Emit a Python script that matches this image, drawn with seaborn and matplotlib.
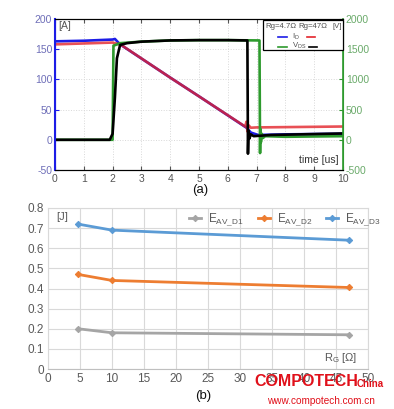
import numpy as np
import pandas as pd
import matplotlib
matplotlib.use("Agg")
import matplotlib.pyplot as plt
import seaborn as sns

# ---------------- Panel (a): switching waveforms ----------------
# I_D, Rg = 4.7 ohm (left axis, A)
t_id_a = [0, 1.0, 2.0, 2.08, 2.26, 4.0, 5.03, 6.65, 6.8, 7.05, 8.0, 9.0, 10.0]
id_a = [163, 164, 166, 167, 158, 103, 71, 20, 12, 8, 9, 9.5, 10]
# I_D, Rg = 47 ohm
t_id_b = [0, 1.0, 2.0, 2.3, 4.0, 5.03, 6.6, 6.65, 6.68, 6.72, 6.8, 7.0, 8.0, 9.0, 10.0]
id_b = [158, 159.5, 161, 157, 103, 71, 22, 30, 14, 24, 20, 20.5, 21, 21.5, 22]
# V_DS, Rg = 4.7 ohm (right axis, V)
t_vds_a = [0, 2.0, 2.03, 2.1, 2.26, 3.0, 4.0, 5.0, 6.0, 7.1, 7.12, 7.13, 7.15, 7.18, 7.22, 7.3, 8.0, 9.0, 10.0]
vds_a = [0, 0, 1560, 1570, 1600, 1625, 1645, 1650, 1650, 1645, -220, 180, -40, 100, 30, 60, 50, 55, 60]
# V_DS, Rg = 47 ohm
t_vds_b = [0, 1.9, 2.0, 2.08, 2.15, 2.26, 2.5, 3.0, 4.0, 5.0, 6.0, 6.68, 6.7, 6.72, 6.75, 6.8, 6.9, 7.5, 8.0, 9.0, 10.0]
vds_b = [0, 0, 100, 700, 1350, 1570, 1600, 1625, 1645, 1650, 1650, 1645, -230, 150, 20, 90, 60, 80, 85, 95, 105]

# ---------------- Panel (b): avalanche energy vs Rg ----------------
rg = [4.7, 10, 47]
eav_d1 = [0.20, 0.18, 0.17]
eav_d2 = [0.47, 0.44, 0.405]
eav_d3 = [0.72, 0.69, 0.64]

W, H = 394, 409
plt.rcParams['font.family'] = ['Liberation Sans', 'DejaVu Sans']
plt.rcParams['mathtext.fontset'] = 'custom'
plt.rcParams['mathtext.rm'] = 'Liberation Sans'
plt.rcParams['mathtext.it'] = 'Liberation Sans'
plt.rcParams['axes.unicode_minus'] = False

fig = plt.figure(figsize=(W / 100, H / 100), dpi=100)
fig.patch.set_facecolor('white')


def fx(x):
    return x / W


def fy(y):
    return 1 - y / H


# ---- top axes ----
ax1 = fig.add_axes([fx(55), fy(170), fx(343) - fx(55), fy(19) - fy(170)])
ax2 = ax1.twinx()

blue, red, green, black = '#1c1ce6', '#e3242b', '#2e9a2e', '#000000'
lw = 1.9
sns.lineplot(x=t_id_a, y=id_a, ax=ax1, color=blue, lw=lw, sort=False, estimator=None)
sns.lineplot(x=t_id_b, y=id_b, ax=ax1, color=red, lw=lw, sort=False, estimator=None, alpha=0.8)
sns.lineplot(x=t_vds_a, y=vds_a, ax=ax2, color=green, lw=lw, sort=False, estimator=None)
sns.lineplot(x=t_vds_b, y=vds_b, ax=ax2, color=black, lw=lw, sort=False, estimator=None)

ax1.set_xlim(0, 10)
ax1.set_ylim(-50, 200)
ax2.set_ylim(-500, 2000)
ax1.set_xticks(range(0, 11))
ax1.set_yticks(range(-50, 201, 50))
ax2.set_yticks(range(-500, 2001, 500))
ax1.grid(True, color='#d8d8d8', ls=':', lw=0.7)
ax1.set_axisbelow(True)
ax1.set_xlabel('')
ax1.set_ylabel('')
ax2.set_ylabel('')
ax1.tick_params(axis='x', labelsize=7.5, colors='#555555', direction='in', length=3, pad=3, top=True)
ax1.tick_params(axis='y', labelsize=7.5, labelcolor='#6e6eb8', color=blue, direction='in', length=3, pad=2)
ax2.tick_params(axis='y', labelsize=7.5, labelcolor='#6aaa6a', color=green, direction='in', length=3, pad=2)
ax2.spines['left'].set_color(blue)
ax2.spines['left'].set_linewidth(1.5)
ax2.spines['right'].set_color(green)
ax2.spines['right'].set_linewidth(1.2)
for s in ['top', 'bottom']:
    ax2.spines[s].set_color('black')
    ax1.spines[s].set_color('black')
ax1.spines['left'].set_color(blue)
ax1.spines['right'].set_color(green)

fig.text(fx(58), fy(26), '[A]', fontsize=7.5, color='#555555', va='center', ha='left')
fig.text(fx(339), fy(160), 'time [us]', fontsize=7.5, color='#333333', va='center', ha='right')
fig.text(fx(200), fy(190), '(a)', fontsize=9.5, color='#111111', va='center', ha='center')

# legend box for panel (a)
from matplotlib.patches import Rectangle
from matplotlib.lines import Line2D
fig.patches.append(Rectangle((fx(263), fy(50)), fx(343) - fx(263), fy(20) - fy(50),
                             transform=fig.transFigure, fill=True, facecolor='white',
                             edgecolor='black', lw=0.9, zorder=5))
lc = '#505050'
fs_leg = 5.6
fig.text(fx(265), fy(26.5), 'Rg=4.7Ω', fontsize=fs_leg, color=lc, va='center', ha='left', zorder=6)
fig.text(fx(298), fy(26.5), 'Rg=47Ω', fontsize=fs_leg, color=lc, va='center', ha='left', zorder=6)
fig.text(fx(342), fy(26.5), '[V]', fontsize=fs_leg, color=lc, va='center', ha='right', zorder=6)
fig.text(fx(296), fy(36.5), r'I$_{\rm D}$', fontsize=fs_leg, color=lc, va='center', ha='center', zorder=6)
fig.text(fx(299), fy(46), r'V$_{\rm DS}$', fontsize=fs_leg, color=lc, va='center', ha='center', zorder=6)
for (x0, x1, yy, c) in [(278, 287, 37, blue), (307, 315, 37, red),
                        (278, 287, 46.5, green), (309, 317, 46.5, black)]:
    fig.lines.append(Line2D([fx(x0), fx(x1)], [fy(yy), fy(yy)], transform=fig.transFigure,
                            color=c, lw=1.2, zorder=6))

# ---- bottom axes ----
ax3 = fig.add_axes([fx(48), fy(369), fx(368) - fx(48), fy(208) - fy(369)])
c1, c2, c3 = '#a5a5a5', '#ed7d31', '#5b9bd5'
sns.lineplot(x=rg, y=eav_d1, ax=ax3, color=c1, lw=2, marker='D', markersize=3.2, mec=c1,
             label=r'E$_{\rm AV\_D1}$')
sns.lineplot(x=rg, y=eav_d2, ax=ax3, color=c2, lw=2, marker='D', markersize=3.2, mec=c2,
             label=r'E$_{\rm AV\_D2}$')
sns.lineplot(x=rg, y=eav_d3, ax=ax3, color=c3, lw=2, marker='D', markersize=3.2, mec=c3,
             label=r'E$_{\rm AV\_D3}$')
ax3.set_xlim(0, 50)
ax3.set_ylim(0, 0.8)
ax3.set_xticks(range(0, 51, 5))
ax3.set_yticks(np.arange(0, 0.81, 0.1))
ax3.set_yticklabels(['0'] + ['%.1f' % v for v in np.arange(0.1, 0.81, 0.1)])
ax3.grid(True, color='#d9d9d9', lw=0.8)
ax3.set_axisbelow(True)
ax3.set_xlabel('')
ax3.set_ylabel('')
ax3.tick_params(axis='both', labelsize=8.5, colors='#595959', length=0, pad=3)
for s in ax3.spines.values():
    s.set_color('#d9d9d9')
    s.set_linewidth(0.8)
ax3.spines['bottom'].set_color('#bfbfbf')
leg = ax3.legend(loc='center', bbox_to_anchor=(fx(285), fy(220)), bbox_transform=fig.transFigure,
                 ncol=3, frameon=False, fontsize=8.5, handlelength=1.0, handletextpad=0.6,
                 columnspacing=1.2, labelcolor='#595959')
fig.text(fx(56), fy(217), '[J]', fontsize=8, color='#595959', va='center', ha='left')
fig.text(fx(357), fy(358), r'R$_{\rm G}$ [Ω]', fontsize=8, color='#595959', va='center', ha='right')
fig.text(fx(203), fy(396), '(b)', fontsize=9.5, color='#111111', va='center', ha='center')

# watermark
fig.text(fx(254), fy(382), 'COMPOTECH', fontsize=11.5, fontweight='bold', color='#e0101a',
         va='center', ha='left', zorder=10)
fig.text(fx(357), fy(384), 'China', fontsize=7, fontweight='bold', color='#e0101a',
         va='center', ha='left', zorder=10)
fig.text(fx(321), fy(401), 'www.compotech.com.cn', fontsize=7.2, color='#e0101a',
         va='center', ha='center', zorder=10)

fig.savefig('out.png', dpi=100, facecolor='white')
